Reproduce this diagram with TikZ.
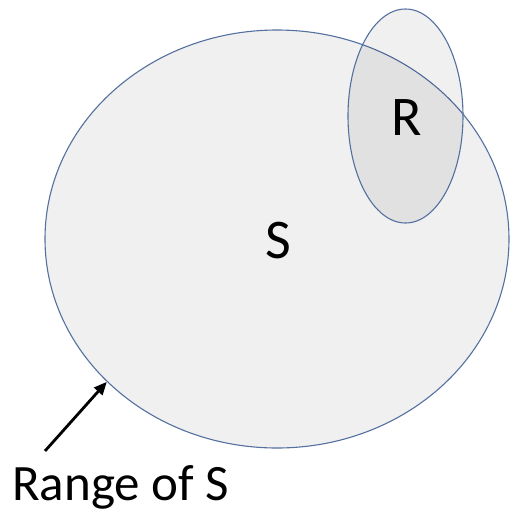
\documentclass[tikz,border=0pt]{standalone}
\usepackage{fontspec}
\setmainfont{Carlito}
\usetikzlibrary{shapes.geometric,arrows.meta}
\definecolor{edge}{RGB}{84,112,160}
\definecolor{setfill}{RGB}{240,240,240}
\tikzset{
  setshape/.style={ellipse,draw=edge,line width=1.1pt,inner sep=0pt},
  bigtext/.style={font=\fontsize{56}{60}\selectfont},
}
\begin{document}
\begin{tikzpicture}[x=1pt,y=-1pt]
\useasboundingbox (0,0) rectangle (510,515);
\node[setshape,fill=setfill,minimum width=464pt,minimum height=418pt] (S) at (277,239) {};
\node[setshape,fill=black,fill opacity=0.06,minimum width=115pt,minimum height=214pt] (R) at (405.5,116) {};
\node[bigtext] (Slbl) at (278,241) {S};
\node[bigtext] (Rlbl) at (407,118) {R};
\node[font=\fontsize{51}{55}\selectfont,anchor=base west,inner sep=0pt] (rng) at (12,500) {Range of S};
\coordinate (tail) at (45,451);
\draw[line width=2.8pt,-{Triangle[length=13pt,width=11pt]}] (tail) -- (S.220.8);
\end{tikzpicture}
\end{document}
